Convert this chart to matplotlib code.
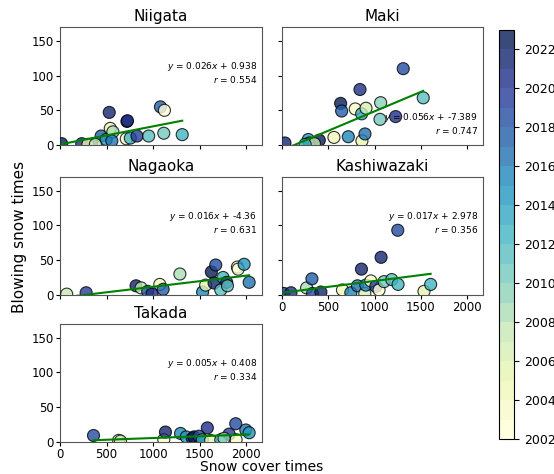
import numpy as np
import matplotlib
matplotlib.use("Agg")
import matplotlib.pyplot as plt

# stations and data (snow cover times, blowing snow times, year)
stations = ["Niigata", "Maki", "Nagaoka", "Kashiwazaki", "Takada"]

niigata_x = [18, 234, 340, 300, 442, 496, 529, 540, 568, 557, 719, 725, 712, 755, 827, 953, 1079, 1122, 1115, 1313, 380]
niigata_y = [2, 2, 1, 1, 13, 8, 47, 24, 19, 6, 34, 35, 9, 10, 13, 13, 55, 50, 17, 15, 1]
niigata_yr = [2022, 2020, 2018, 2004, 2017, 2014, 2021, 2005, 2008, 2016, 2022, 2020, 2003, 2012, 2019, 2011, 2017, 2002, 2010, 2012, 2007]

maki_x = [32, 284, 295, 403, 561, 633, 644, 716, 791, 842, 860, 863, 896, 907, 1058, 1065, 1227, 1309, 1525, 350, 250]
maki_y = [3, 8, 3, 7, 11, 60, 49, 12, 52, 80, 45, 6, 16, 53, 37, 61, 41, 110, 68, 2, 1]
maki_yr = [2021, 2014, 2018, 2022, 2004, 2022, 2017, 2015, 2003, 2020, 2013, 2005, 2016, 2006, 2010, 2009, 2020, 2018, 2011, 2007, 2012]

nagaoka_x = [72, 281, 817, 871, 942, 989, 1072, 1108, 1288, 1532, 1565, 1626, 1673, 1655, 1727, 1752, 1791, 1799, 1906, 1914, 1978, 2032]
nagaoka_y = [1, 3, 13, 10, 5, 1, 15, 8, 30, 4, 14, 33, 43, 17, 7, 25, 18, 13, 40, 37, 44, 18]
nagaoka_yr = [2007, 2019, 2021, 2007, 2017, 2020, 2004, 2017, 2008, 2015, 2005, 2022, 2018, 2021, 2011, 2012, 2020, 2011, 2003, 2002, 2014, 2016]

kashiwazaki_x = [20, 97, 266, 323, 330, 420, 653, 743, 815, 858, 894, 905, 959, 1013, 1048, 1070, 1102, 1185, 1250, 1253, 1533, 1605]
kashiwazaki_y = [2, 3, 10, 23, 2, 4, 7, 3, 13, 37, 2, 14, 20, 12, 7, 54, 19, 22, 93, 15, 5, 15]
kashiwazaki_yr = [2020, 2020, 2008, 2017, 2018, 2021, 2004, 2015, 2016, 2021, 2006, 2015, 2003, 2019, 2002, 2021, 2010, 2011, 2018, 2012, 2005, 2012]

takada_x = [360, 630, 650, 1115, 1133, 1295, 1356, 1421, 1439, 1493, 1529, 1583, 1619, 1727, 1817, 1888, 1892, 1996, 2032, 1763]
takada_y = [9, 2, 1, 3, 14, 12, 7, 5, 7, 8, 3, 20, 2, 3, 11, 26, 3, 17, 13, 5]
takada_yr = [2018, 2004, 2007, 2003, 2021, 2015, 2014, 2020, 2022, 2018, 2013, 2020, 2005, 2011, 2019, 2018, 2003, 2016, 2014, 2009]

# regression: slope, intercept, r
slopes = [0.026, 0.056, 0.016, 0.017, 0.005]
intercepts = [0.938, -7.389, -4.36, 2.978, 0.408]
r_values = [0.554, 0.747, 0.631, 0.356, 0.334]

xs = [niigata_x, maki_x, nagaoka_x, kashiwazaki_x, takada_x]
ys = [niigata_y, maki_y, nagaoka_y, kashiwazaki_y, takada_y]
yrs = [niigata_yr, maki_yr, nagaoka_yr, kashiwazaki_yr, takada_yr]

# layout
fig = plt.figure(figsize=(5.54, 4.74), dpi=100)
w1, w2 = 0.3646, 0.3628
h = 0.249
pos = [(0.1083, 0.694), (0.509, 0.694), (0.1083, 0.378), (0.509, 0.378), (0.1083, 0.068)]
text_y = [0.72, 0.29, 0.72, 0.72, 0.72]

cmap = plt.get_cmap("YlGnBu", 21)
sc = None
for i, name in enumerate(stations):
    left, bottom = pos[i]
    ax = fig.add_axes([left, bottom, w1 if left < 0.5 else w2, h])
    x = np.array(xs[i])
    y = np.array(ys[i])
    sc = ax.scatter(x, y, c=yrs[i], cmap=cmap, vmin=2002, vmax=2023, s=75,
                    edgecolors="black", linewidths=0.8, alpha=0.8, zorder=3)
    xl = np.array([x.min(), x.max()])
    ax.plot(xl, slopes[i] * xl + intercepts[i], color="green", lw=1.5, zorder=4)
    ax.text(0.975, text_y[i],
            "$y$ = {}$x$ + {}\n$r$ = {}".format(slopes[i], intercepts[i], r_values[i]),
            transform=ax.transAxes, ha="right", va="top", fontsize=6.5,
            linespacing=1.1, zorder=5)
    ax.set_xlim(0, 2170)
    ax.set_ylim(0, 170)
    ax.set_xticks([0, 500, 1000, 1500, 2000])
    ax.set_yticks([0, 50, 100, 150])
    ax.set_title(name, fontsize=11, pad=4)
    ax.tick_params(labelsize=8.5, pad=1.5, length=3)
    if name not in ("Kashiwazaki", "Takada"):
        ax.tick_params(labelbottom=False)
    if left > 0.5:
        ax.tick_params(labelleft=False)
    for sp in ax.spines.values():
        sp.set_color("#555555")

cax = fig.add_axes([0.9007, 0.0738, 0.027, 0.863])
cb = fig.colorbar(sc, cax=cax)
cb.set_ticks(np.arange(2002, 2023, 2))
cb.ax.tick_params(labelsize=9)

fig.text(0.035, 0.5, "Blowing snow times", rotation=90, ha="center", va="center", fontsize=11)
fig.text(0.473, 0.0, "Snow cover times", ha="center", va="bottom", fontsize=10)

plt.savefig("out.png", dpi=100)
